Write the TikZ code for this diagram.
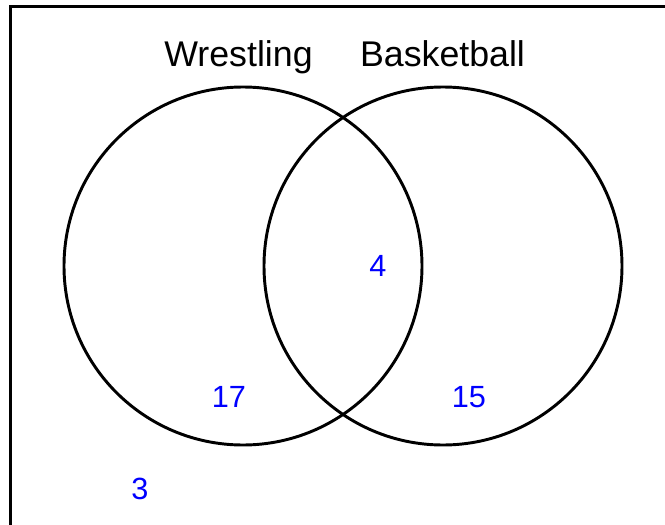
\documentclass[tikz,border=0pt]{standalone}
\usepackage{fontspec}
\setmainfont{Liberation Sans}
\begin{document}
\begin{tikzpicture}[x=0.75pt,y=-0.75pt,
  setcircle/.style={draw=black,line width=2.2pt,circle,minimum size=268.5pt,inner sep=0pt},
  title/.style={font=\fontsize{26.8}{32}\selectfont,anchor=base,inner sep=0pt},
  count/.style={font=\fontsize{23}{28}\selectfont,text=blue,anchor=base,inner sep=0pt}]
\useasboundingbox (0,0) rectangle (665,525);
\clip (0,0) rectangle (665,525);
\fill[white] (0,0) rectangle (665,525);
\draw[line width=2.2pt] (10.5,560) -- (10.5,6.5) -- (700,6.5);
\node[setcircle] (W) at (243,266) {};
\node[setcircle] (B) at (443,266) {};
\node[title] (tw) at (238.5,66.5) {Wrestling};
\node[title] (tb) at (442.5,66.5) {Basketball};
\node[count] (n4) at (378,276) {4};
\node[count] (n17) at (229,407) {17};
\node[count] (n15) at (469,407) {15};
\node[count] (n3) at (140,499) {3};
\end{tikzpicture}
\end{document}
